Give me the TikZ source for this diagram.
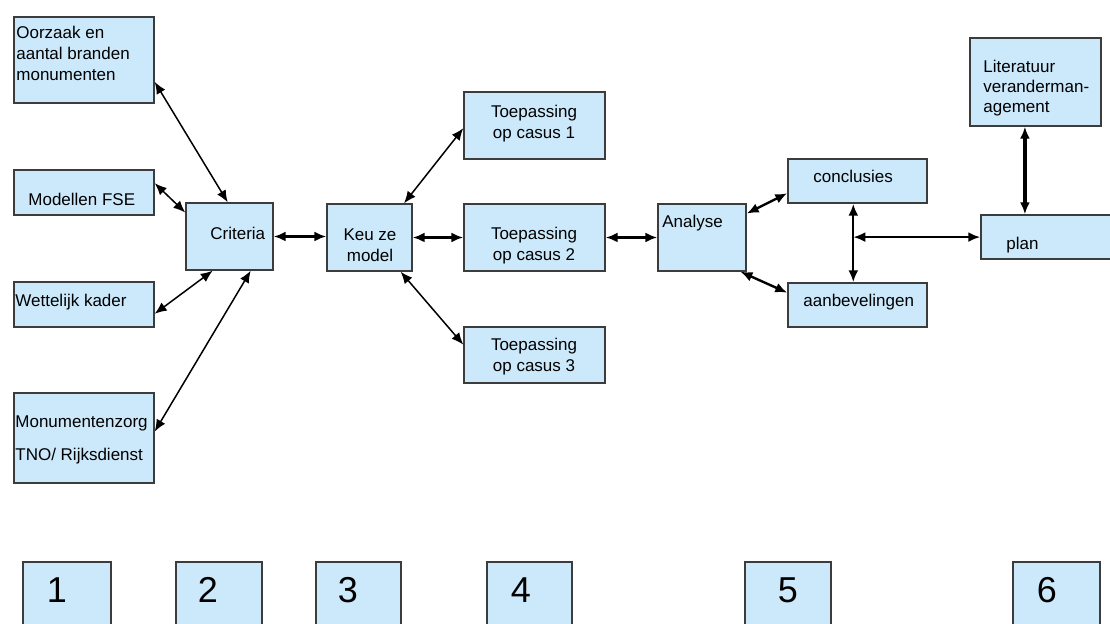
\documentclass[tikz,border=0pt]{standalone}
\usepackage{fontspec}
\setmainfont{Liberation Sans}
\usetikzlibrary{arrows.meta,calc,fit}
\definecolor{blokblauw}{HTML}{CCE9FB}
\definecolor{rand}{HTML}{3C3C3C}

\begin{document}
\begin{tikzpicture}[x=0.5pt,y=-0.5pt,
  blok/.style={draw=rand,line width=0.7pt,fill=blokblauw,inner sep=0pt},
  tekst/.style={inner sep=0pt,font=\fontsize{8.5}{10.5}\selectfont},
  cijfer/.style={inner sep=0pt,font=\fontsize{18}{20}\selectfont},
  pijl/.style={{Latex[length=6pt,width=5pt]}-{Latex[length=6pt,width=5pt]},line width=0.75pt},
  dikpijl/.style={pijl,line width=1.2pt}]
\useasboundingbox (0,0) rectangle (1110,624);

% kolom 1
\node[blok,fit={(14,17) (154,103)}] (oorzaak) {};
\node[tekst,anchor=north west,align=left] at (16,25.5) {Oorzaak en\\aantal branden\\monumenten};
\node[blok,fit={(14,170) (154,215)}] (fse) {};
\node[tekst,anchor=base west] at (28,206) {Modellen FSE};
\node[blok,fit={(14,282) (154,327)}] (wet) {};
\node[tekst,anchor=base west] at (15,307) {Wettelijk kader};
\node[blok,fit={(14,393) (154,483)}] (zorg) {};
\node[tekst,anchor=north west,align=left] at (15,415) {Monumentenzorg\\[6pt]TNO/ Rijksdienst};

% kolom 2 en 3
\node[blok,fit={(186,203) (273,270)}] (crit) {};
\node[tekst,anchor=base west] at (210,240) {Criteria};
\node[blok,fit={(327,204) (412,271)}] (keuze) {};
\node[tekst,anchor=north,align=center] at (370,228) {Keu ze\\model};

% kolom 4
\node[blok,fit={(464,92) (605,159)}] (casus1) {};
\node[tekst,anchor=north,align=center] at (534,105) {Toepassing\\op casus 1};
\node[blok,fit={(464,204) (605,271)}] (casus2) {};
\node[tekst,anchor=north,align=center] at (534,227) {Toepassing\\op casus 2};
\node[blok,fit={(464,327) (605,383)}] (casus3) {};
\node[tekst,anchor=north,align=center] at (534,338) {Toepassing\\op casus 3};

% kolom 5
\node[blok,fit={(658,204) (746,271)}] (analyse) {};
\node[tekst,anchor=base west] at (662,228) {Analyse};
\node[blok,fit={(788,159) (927,203)}] (concl) {};
\node[tekst,anchor=base west] at (813,183) {conclusies};
\node[blok,fit={(788,283) (927,327)}] (aanb) {};
\node[tekst,anchor=base west] at (803,307) {aanbevelingen};

% kolom 6
\node[blok,fit={(970,38) (1101,126)}] (lit) {};
\node[tekst,anchor=north west,align=left,font=\fontsize{8.5}{10}\selectfont] at (983,60) {Literatuur\\veranderman-\\agement};
\node[blok,fit={(981,215) (1125,259)}] (plan) {};
\node[tekst,anchor=base west] at (1006,250) {plan};

% fasen onderaan
\node[blok,fit={(23,562) (111,640)}] (fase1) {};
\node[cijfer,anchor=base] at (57,603) {1};
\node[blok,fit={(176,562) (262,640)}] (fase2) {};
\node[cijfer,anchor=base] at (208,603) {2};
\node[blok,fit={(316,562) (401,640)}] (fase3) {};
\node[cijfer,anchor=base] at (348,603) {3};
\node[blok,fit={(487,562) (572,640)}] (fase4) {};
\node[cijfer,anchor=base] at (521,603) {4};
\node[blok,fit={(745,562) (831,640)}] (fase5) {};
\node[cijfer,anchor=base] at (788,603) {5};
\node[blok,fit={(1013,562) (1100,640)}] (fase6) {};
\node[cijfer,anchor=base] at (1047,603) {6};

% pijlen
\draw[pijl] ($(oorzaak.south east)!0.25!(oorzaak.north east)$) -- ($(crit.north west)!0.48!(crit.north east)$);
\draw[pijl] ($(fse.north east)!0.3!(fse.south east)$) -- ($(crit.north west)!0.15!(crit.south west)$);
\draw[pijl] ($(wet.north east)!0.7!(wet.south east)$) -- ($(crit.south west)!0.31!(crit.south east)$);
\draw[pijl] ($(zorg.north east)!0.43!(zorg.south east)$) -- ($(crit.south west)!0.74!(crit.south east)$);
\draw[dikpijl] (crit.east) -- (crit.east -| keuze.west);
\draw[pijl] ($(keuze.north west)!0.9!(keuze.north east)$) -- ($(casus1.north west)!0.54!(casus1.south west)$);
\draw[dikpijl] (keuze.east) -- (casus2.west);
\draw[pijl] ($(keuze.south west)!0.86!(keuze.south east)$) -- ($(casus3.north west)!0.32!(casus3.south west)$);
\draw[dikpijl] (casus2.east) -- (analyse.west);
\draw[dikpijl] ($(analyse.north east)!0.15!(analyse.south east)$) -- ($(concl.north west)!0.77!(concl.south west)$);
\draw[dikpijl] ($(analyse.south west)!0.93!(analyse.south east)$) -- ($(aanb.north west)!0.23!(aanb.south west)$);
\coordinate (midden) at ($(concl.south west)!0.47!(concl.south east)$);
\draw[dikpijl] (midden) -- coordinate[pos=0.425] (splits) (midden |- aanb.north);
\draw[dikpijl] (splits) -- (splits -| plan.west);
\coordinate (litonder) at ($(lit.south west)!0.42!(lit.south east)$);
\draw[dikpijl,line width=1.6pt] (litonder) -- (litonder |- plan.north);
\end{tikzpicture}
\end{document}
